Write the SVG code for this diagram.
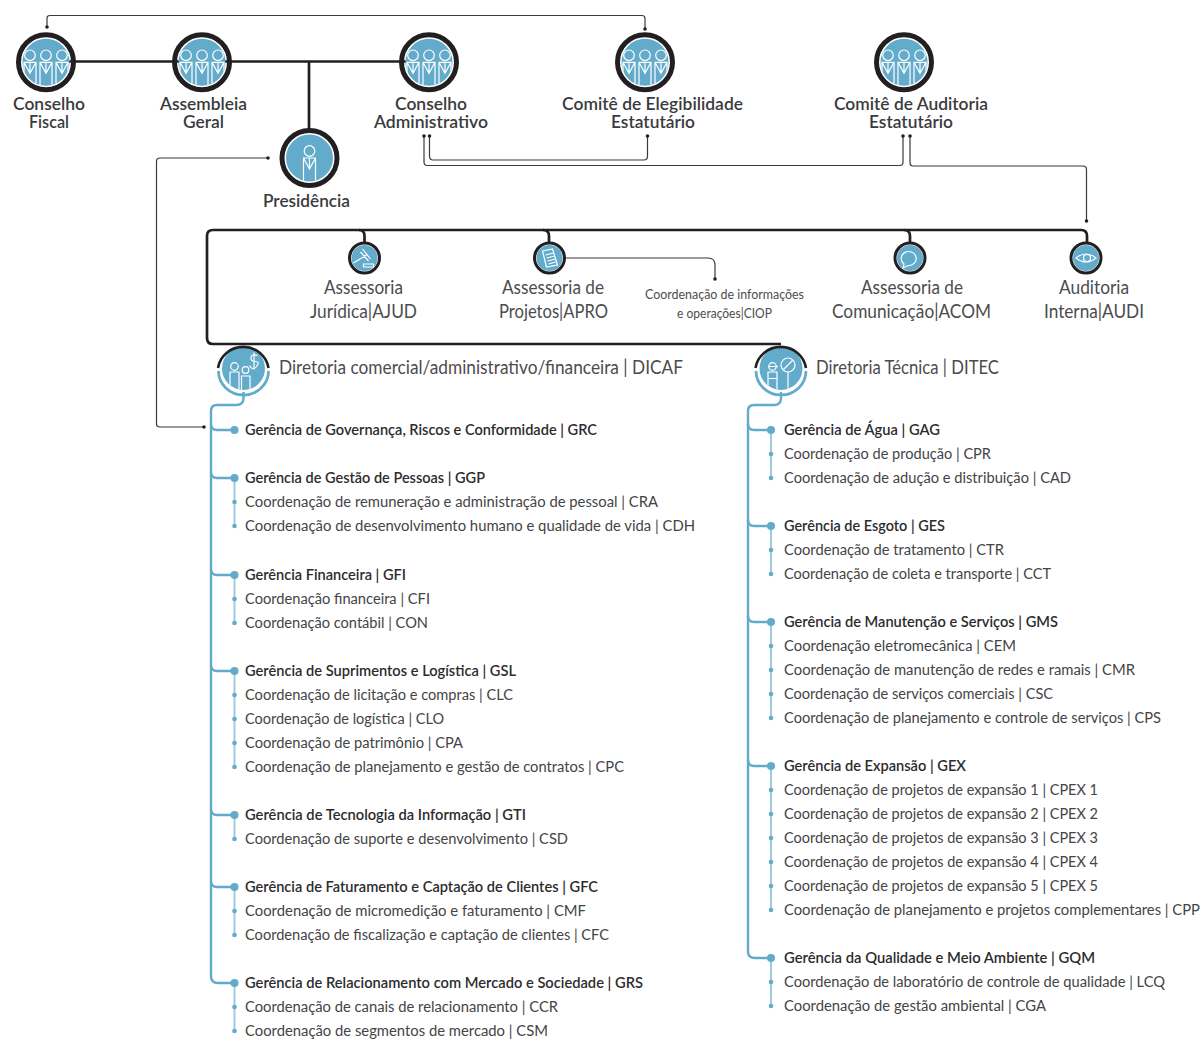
<svg xmlns="http://www.w3.org/2000/svg" width="1202" height="1039" viewBox="0 0 1202 1039">
<style>
text{font-family:"Lato","Noto Sans",sans-serif;fill:#3a3a3c}
.n{font-size:17.5px;font-weight:600}
.a{font-size:18.5px;font-weight:400;fill:#4c4c4e}
.s{font-size:13px;font-weight:400;fill:#4c4c4e}
.g{font-size:15.5px;font-weight:600;fill:#2c2c2e}
.c{font-size:15.5px;font-weight:400;fill:#444446}
.k{fill:none;stroke:#231f20;stroke-width:2.7}
.t{fill:none;stroke:#3a3a3c;stroke-width:1.2}
.b{fill:none;stroke:#62abcb;stroke-width:2.4}
.l{fill:none;stroke:#9fcbe0;stroke-width:2}
.dk{fill:#231f20}
.bd{fill:#62abcb}
.w{fill:none;stroke:#fff;stroke-width:1.2}
</style>
<defs>
<clipPath id="big"><circle r="23.5"/></clipPath>
<clipPath id="mid"><circle r="21.5"/></clipPath>
<g id="ring"><circle r="23.5" fill="#62abcb"/><circle r="27.5" fill="none" stroke="#231f20" stroke-width="5"/></g>
<g id="person"><circle cy="-7" r="5.300" class="w"/><path d="M-6 0H6V26H-6ZM-6 0 0 11 6 0M0 0V11" class="w"/></g>
<g id="trio"><use href="#ring"/><g clip-path="url(#big)"><use href="#person" x="-16"/><use href="#person"/><use href="#person" x="16"/></g></g>
<g id="small"><circle r="13" fill="#62abcb"/><circle r="15" fill="none" stroke="#231f20" stroke-width="3"/></g>
</defs>
<g id="connectors">
<path class="k" d="M46 61.500H429"/>
<path class="k" d="M309 61.500V132"/>
<path class="t" d="M47 27V18Q47 15.500 50 15.500H642Q645 15.500 645 18.500V29"/>
<path class="t" d="M424 136V162Q424 165.500 427.500 165.500H900Q903 165.500 903 162V136"/>
<path class="t" d="M429.500 136V156Q429.500 160 433 160H644Q647.500 160 647.500 156V136"/>
<path class="t" d="M910 136V163Q910 166 913 166H1083Q1086.500 166 1086.500 169.500V221"/>
<path class="t" d="M268 158H160Q156.500 158 156.500 161.500V424Q156.500 427 160 427H204"/>
<path class="k" d="M781 344H213Q207 344 207 338V236Q207 230 213 230H1081Q1087 230 1087 236V244"/>
<path class="k" d="M359 230Q364.500 230 364.500 236V244M543 230Q549 230 549 236V244M904 230Q910 230 910 236V244"/>
<path class="t" d="M564 258H708Q715 258 715 265V279"/>
<circle class="dk" cx="47" cy="27" r="1.800"/><circle class="dk" cx="645" cy="29" r="1.800"/>
<circle class="dk" cx="424" cy="136" r="1.800"/><circle class="dk" cx="429.500" cy="136" r="1.800"/><circle class="dk" cx="647.500" cy="136" r="1.800"/>
<circle class="dk" cx="903" cy="136" r="1.800"/><circle class="dk" cx="910" cy="136" r="1.800"/><circle class="dk" cx="1086.500" cy="221" r="1.800"/>
<circle class="dk" cx="268" cy="158" r="1.800"/><circle class="dk" cx="204" cy="427" r="1.800"/><circle class="dk" cx="715" cy="279" r="1.800"/>
<path class="b" d="M243.500 392V398Q243.500 405 236 405H217Q211 405 211 411V976Q211 983 218 983H232"/>
<path class="b" d="M211 424Q211 430 217 430H232M211 472Q211 478 217 478H232M211 569Q211 575 217 575H232M211 665Q211 671 217 671H232M211 809Q211 815 217 815H232M211 881Q211 887 217 887H232"/>
<path class="b" d="M781 392V398Q781 405 774 405H754Q748 405 748 411V952Q748 958 755 958H768"/>
<path class="b" d="M748 424Q748 430 754 430H768M748 520Q748 526 754 526H768M748 616Q748 622 754 622H768M748 760Q748 766 754 766H768"/>
<path class="l" d="M234.500 478V525M234.500 575V622M234.500 671V766M234.500 815V838M234.500 887V934M234.500 983V1030"/>
<path class="l" d="M771 430V477M771 526V573M771 622V717M771 766V909M771 958V1005"/>
<g class="bd">
<circle cx="234.500" cy="430" r="4"/><circle cx="234.500" cy="478" r="4"/><circle cx="234.500" cy="575" r="4"/><circle cx="234.500" cy="671" r="4"/><circle cx="234.500" cy="815" r="4"/><circle cx="234.500" cy="887" r="4"/><circle cx="234.500" cy="983" r="4"/>
<circle cx="234.500" cy="502" r="2.300"/><circle cx="234.500" cy="526" r="2.300"/><circle cx="234.500" cy="599" r="2.300"/><circle cx="234.500" cy="623" r="2.300"/><circle cx="234.500" cy="695" r="2.300"/><circle cx="234.500" cy="719" r="2.300"/><circle cx="234.500" cy="743" r="2.300"/><circle cx="234.500" cy="767" r="2.300"/><circle cx="234.500" cy="839" r="2.300"/><circle cx="234.500" cy="911" r="2.300"/><circle cx="234.500" cy="935" r="2.300"/><circle cx="234.500" cy="1007" r="2.300"/><circle cx="234.500" cy="1031" r="2.300"/>
<circle cx="771" cy="430" r="4"/><circle cx="771" cy="526" r="4"/><circle cx="771" cy="622" r="4"/><circle cx="771" cy="766" r="4"/><circle cx="771" cy="958" r="4"/>
<circle cx="771" cy="454" r="2.300"/><circle cx="771" cy="478" r="2.300"/><circle cx="771" cy="550" r="2.300"/><circle cx="771" cy="574" r="2.300"/><circle cx="771" cy="646" r="2.300"/><circle cx="771" cy="670" r="2.300"/><circle cx="771" cy="694" r="2.300"/><circle cx="771" cy="718" r="2.300"/><circle cx="771" cy="790" r="2.300"/><circle cx="771" cy="814" r="2.300"/><circle cx="771" cy="838" r="2.300"/><circle cx="771" cy="862" r="2.300"/><circle cx="771" cy="886" r="2.300"/><circle cx="771" cy="910" r="2.300"/><circle cx="771" cy="982" r="2.300"/><circle cx="771" cy="1006" r="2.300"/>
</g>
</g>
<g id="conselho-fiscal"><use href="#trio" x="46" y="62.300"/><text class="n" x="13" y="110" textLength="72" lengthAdjust="spacingAndGlyphs">Conselho</text><text class="n" x="29" y="128" textLength="40" lengthAdjust="spacingAndGlyphs">Fiscal</text></g>
<g id="assembleia-geral"><use href="#trio" x="202" y="62.300"/><text class="n" x="160" y="110" textLength="87" lengthAdjust="spacingAndGlyphs">Assembleia</text><text class="n" x="183" y="128" textLength="41" lengthAdjust="spacingAndGlyphs">Geral</text></g>
<g id="conselho-administrativo"><use href="#trio" x="429" y="62.300"/><text class="n" x="395" y="110" textLength="72" lengthAdjust="spacingAndGlyphs">Conselho</text><text class="n" x="374" y="128" textLength="114" lengthAdjust="spacingAndGlyphs">Administrativo</text></g>
<g id="comite-elegibilidade"><use href="#trio" x="645" y="62.300"/><text class="n" x="562" y="110" textLength="181" lengthAdjust="spacingAndGlyphs">Comitê de Elegibilidade</text><text class="n" x="611" y="128" textLength="84" lengthAdjust="spacingAndGlyphs">Estatutário</text></g>
<g id="comite-auditoria"><use href="#trio" x="904" y="62.300"/><text class="n" x="834" y="110" textLength="154" lengthAdjust="spacingAndGlyphs">Comitê de Auditoria</text><text class="n" x="869" y="128" textLength="84" lengthAdjust="spacingAndGlyphs">Estatutário</text></g>
<g id="presidencia"><use href="#ring" x="309.500" y="158"/><g transform="translate(309.500 158)" clip-path="url(#big)"><use href="#person"/></g><text class="n" x="263" y="207" textLength="87" lengthAdjust="spacingAndGlyphs">Presidência</text></g>
<g id="ajud"><use href="#small" x="364.500" y="258"/><path class="w" d="M-11 5 2-3M-2-9 6 1M-4-6 4 3M-1 9H9V6H-1Z" transform="translate(364.500 258)"/><text class="a" x="324" y="294" textLength="79" lengthAdjust="spacingAndGlyphs">Assessoria</text><text class="a" x="310" y="318" textLength="107" lengthAdjust="spacingAndGlyphs">Jurídica|AJUD</text></g>
<g id="apro"><use href="#small" x="549.500" y="258"/><path class="w" d="M-7-7 3-9 8 7-3 9ZM-4-3 4-5M-3 0 5-2M-2 3 6 1M-1 6 6 4" transform="translate(549.500 258)"/><text class="a" x="502" y="294" textLength="102" lengthAdjust="spacingAndGlyphs">Assessoria de</text><text class="a" x="499" y="318" textLength="109" lengthAdjust="spacingAndGlyphs">Projetos|APRO</text></g>
<g id="ciop"><text class="s" x="645" y="299" textLength="159" lengthAdjust="spacingAndGlyphs">Coordenação de informações</text><text class="s" x="677" y="318" textLength="95" lengthAdjust="spacingAndGlyphs">e operações|CIOP</text></g>
<g id="acom"><use href="#small" x="910" y="258"/><path class="w" d="M904 264A7.500 7 0 1 1 908 265.500L903 268Z"/><text class="a" x="861" y="294" textLength="102" lengthAdjust="spacingAndGlyphs">Assessoria de</text><text class="a" x="832" y="318" textLength="159" lengthAdjust="spacingAndGlyphs">Comunicação|ACOM</text></g>
<g id="audi"><use href="#small" x="1086" y="258"/><path class="w" d="M1076 258Q1086 250 1096 258Q1086 266 1076 258Z"/><circle class="w" cx="1087" cy="258" r="3.500"/><text class="a" x="1059" y="294" textLength="70" lengthAdjust="spacingAndGlyphs">Auditoria</text><text class="a" x="1044" y="318" textLength="100" lengthAdjust="spacingAndGlyphs">Interna|AUDI</text></g>
<g id="dicaf"><circle cx="243.500" cy="368.500" r="21.500" fill="#62abcb"/><path d="M218 368A25.500 24.500 0 0 1 268.500 368" fill="none" stroke="#231f20" stroke-width="2.600"/><path d="M218.500 371A25 24 0 0 0 268.500 371" fill="none" stroke="#62abcb" stroke-width="2.800"/><g transform="translate(243.500 368.500)" clip-path="url(#mid)"><circle cx="-9" cy="-2" r="3.800" class="w"/><path d="M-13.500 3.500H-4.500V22H-13.500Z" class="w"/><circle cx="2" cy="1.500" r="3.300" class="w"/><path d="M-2 7.500H6.500V22H-2Z" class="w"/><path d="M14-13Q8-15 7.500-11T12-7 13-2 6-3M10.500-16V1" class="w"/></g><text class="a" x="279" y="374" textLength="404" lengthAdjust="spacingAndGlyphs">Diretoria comercial/administrativo/financeira | DICAF</text></g>
<g id="ditec"><circle cx="781" cy="368.500" r="21.500" fill="#62abcb"/><path d="M755.500 368A25.500 24.500 0 0 1 806 368" fill="none" stroke="#231f20" stroke-width="2.600"/><path d="M756 371A25 24 0 0 0 806 371" fill="none" stroke="#62abcb" stroke-width="2.800"/><g transform="translate(781 368.500)" clip-path="url(#mid)"><circle cx="-8.500" cy="-2" r="3.800" class="w"/><path d="M-13-2H-3M-13 3.500H-4V22H-13ZM-13 10H-4" class="w"/><circle cx="7" cy="-3.500" r="7" class="w"/><path d="M2.500 1 11.500-8M7 3.500V22" class="w"/></g><text class="a" x="816" y="374" textLength="183" lengthAdjust="spacingAndGlyphs">Diretoria Técnica | DITEC</text></g>
<g id="grc"><text class="g" x="245" y="435" textLength="352" lengthAdjust="spacingAndGlyphs">Gerência de Governança, Riscos e Conformidade | GRC</text></g>
<g id="ggp"><text class="g" x="245" y="483" textLength="240" lengthAdjust="spacingAndGlyphs">Gerência de Gestão de Pessoas | GGP</text><text class="c" x="245" y="507" textLength="413" lengthAdjust="spacingAndGlyphs">Coordenação de remuneração e administração de pessoal | CRA</text><text class="c" x="245" y="531" textLength="450" lengthAdjust="spacingAndGlyphs">Coordenação de desenvolvimento humano e qualidade de vida | CDH</text></g>
<g id="gfi"><text class="g" x="245" y="580" textLength="161" lengthAdjust="spacingAndGlyphs">Gerência Financeira | GFI</text><text class="c" x="245" y="604" textLength="185" lengthAdjust="spacingAndGlyphs">Coordenação financeira | CFI</text><text class="c" x="245" y="628" textLength="183" lengthAdjust="spacingAndGlyphs">Coordenação contábil | CON</text></g>
<g id="gsl"><text class="g" x="245" y="676" textLength="271" lengthAdjust="spacingAndGlyphs">Gerência de Suprimentos e Logística | GSL</text><text class="c" x="245" y="700" textLength="268" lengthAdjust="spacingAndGlyphs">Coordenação de licitação e compras | CLC</text><text class="c" x="245" y="724" textLength="199" lengthAdjust="spacingAndGlyphs">Coordenação de logística | CLO</text><text class="c" x="245" y="748" textLength="218" lengthAdjust="spacingAndGlyphs">Coordenação de patrimônio | CPA</text><text class="c" x="245" y="772" textLength="379" lengthAdjust="spacingAndGlyphs">Coordenação de planejamento e gestão de contratos | CPC</text></g>
<g id="gti"><text class="g" x="245" y="820" textLength="281" lengthAdjust="spacingAndGlyphs">Gerência de Tecnologia da Informação | GTI</text><text class="c" x="245" y="844" textLength="323" lengthAdjust="spacingAndGlyphs">Coordenação de suporte e desenvolvimento | CSD</text></g>
<g id="gfc"><text class="g" x="245" y="892" textLength="353" lengthAdjust="spacingAndGlyphs">Gerência de Faturamento e Captação de Clientes | GFC</text><text class="c" x="245" y="916" textLength="341" lengthAdjust="spacingAndGlyphs">Coordenação de micromedição e faturamento | CMF</text><text class="c" x="245" y="940" textLength="364" lengthAdjust="spacingAndGlyphs">Coordenação de fiscalização e captação de clientes | CFC</text></g>
<g id="grs"><text class="g" x="245" y="988" textLength="398" lengthAdjust="spacingAndGlyphs">Gerência de Relacionamento com Mercado e Sociedade | GRS</text><text class="c" x="245" y="1012" textLength="313" lengthAdjust="spacingAndGlyphs">Coordenação de canais de relacionamento | CCR</text><text class="c" x="245" y="1036" textLength="303" lengthAdjust="spacingAndGlyphs">Coordenação de segmentos de mercado | CSM</text></g>
<g id="gag"><text class="g" x="784" y="435" textLength="156" lengthAdjust="spacingAndGlyphs">Gerência de Água | GAG</text><text class="c" x="784" y="459" textLength="207" lengthAdjust="spacingAndGlyphs">Coordenação de produção | CPR</text><text class="c" x="784" y="483" textLength="287" lengthAdjust="spacingAndGlyphs">Coordenação de adução e distribuição | CAD</text></g>
<g id="ges"><text class="g" x="784" y="531" textLength="161" lengthAdjust="spacingAndGlyphs">Gerência de Esgoto | GES</text><text class="c" x="784" y="555" textLength="220" lengthAdjust="spacingAndGlyphs">Coordenação de tratamento | CTR</text><text class="c" x="784" y="579" textLength="267" lengthAdjust="spacingAndGlyphs">Coordenação de coleta e transporte | CCT</text></g>
<g id="gms"><text class="g" x="784" y="627" textLength="274" lengthAdjust="spacingAndGlyphs">Gerência de Manutenção e Serviços | GMS</text><text class="c" x="784" y="651" textLength="232" lengthAdjust="spacingAndGlyphs">Coordenação eletromecânica | CEM</text><text class="c" x="784" y="675" textLength="351" lengthAdjust="spacingAndGlyphs">Coordenação de manutenção de redes e ramais | CMR</text><text class="c" x="784" y="699" textLength="269" lengthAdjust="spacingAndGlyphs">Coordenação de serviços comerciais | CSC</text><text class="c" x="784" y="723" textLength="377" lengthAdjust="spacingAndGlyphs">Coordenação de planejamento e controle de serviços | CPS</text></g>
<g id="gex"><text class="g" x="784" y="771" textLength="182" lengthAdjust="spacingAndGlyphs">Gerência de Expansão | GEX</text><text class="c" x="784" y="795" textLength="314" lengthAdjust="spacingAndGlyphs">Coordenação de projetos de expansão 1 | CPEX 1</text><text class="c" x="784" y="819" textLength="314" lengthAdjust="spacingAndGlyphs">Coordenação de projetos de expansão 2 | CPEX 2</text><text class="c" x="784" y="843" textLength="314" lengthAdjust="spacingAndGlyphs">Coordenação de projetos de expansão 3 | CPEX 3</text><text class="c" x="784" y="867" textLength="314" lengthAdjust="spacingAndGlyphs">Coordenação de projetos de expansão 4 | CPEX 4</text><text class="c" x="784" y="891" textLength="314" lengthAdjust="spacingAndGlyphs">Coordenação de projetos de expansão 5 | CPEX 5</text><text class="c" x="784" y="915" textLength="416" lengthAdjust="spacingAndGlyphs">Coordenação de planejamento e projetos complementares | CPP</text></g>
<g id="gqm"><text class="g" x="784" y="963" textLength="311" lengthAdjust="spacingAndGlyphs">Gerência da Qualidade e Meio Ambiente | GQM</text><text class="c" x="784" y="987" textLength="381" lengthAdjust="spacingAndGlyphs">Coordenação de laboratório de controle de qualidade | LCQ</text><text class="c" x="784" y="1011" textLength="262" lengthAdjust="spacingAndGlyphs">Coordenação de gestão ambiental | CGA</text></g>
</svg>
